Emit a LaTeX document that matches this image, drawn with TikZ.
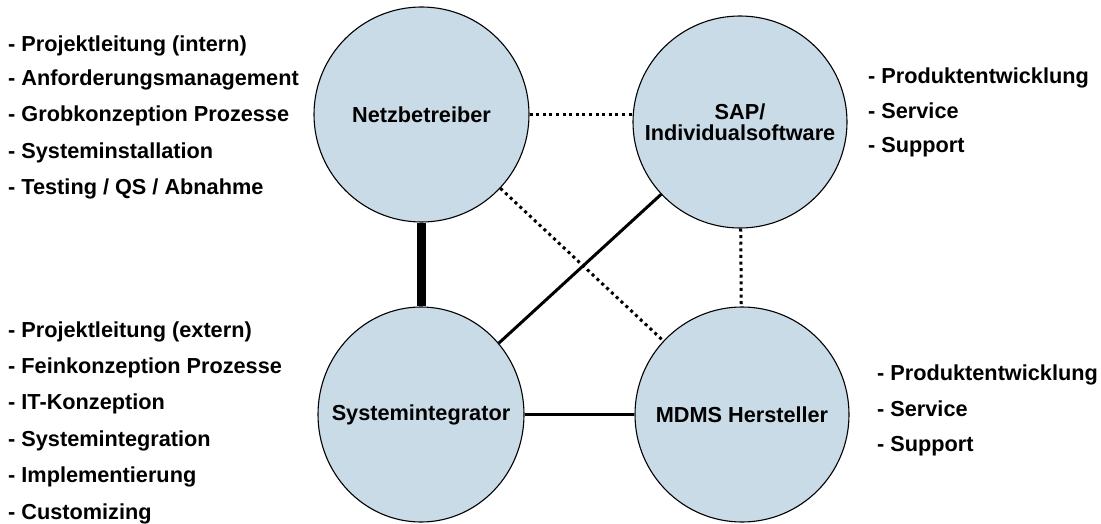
\documentclass[tikz,border=0pt]{standalone}
\usepackage{fontspec}
\setmainfont{Liberation Sans}
\usetikzlibrary{shapes.geometric}
\definecolor{cfill}{RGB}{201,219,231}
\begin{document}
\begin{tikzpicture}[x=1pt,y=-1pt,
  party/.style={ellipse, draw=black, line width=1.1pt, fill=cfill, inner sep=0pt},
  partytext/.style={inner sep=0pt, font=\bfseries\fontsize{21.7}{21}\selectfont, align=center},
  item/.style={anchor=base west, inner sep=0pt, font=\bfseries\fontsize{21.7}{26}\selectfont},
  dotline/.style={line width=3pt, dash pattern=on 3pt off 3.6pt},
  solidline/.style={line width=3pt},
  thickline/.style={line width=9.5pt}]
\useasboundingbox (0,0) rectangle (1101,524);

\node[party, minimum width=215pt, minimum height=215pt] (netz) at (421.5,114.5) {};
\node[party, minimum width=214pt, minimum height=212pt] (sap) at (740,122) {};
\node[party, minimum width=206pt, minimum height=215pt] (si) at (421,414.5) {};
\node[party, minimum width=214pt, minimum height=215pt] (mdms) at (742,414.5) {};

\node[partytext] (netzT) at (netz.center) {Netzbetreiber};
\node[partytext] (sapT) at (sap.center) {SAP/\\Individualsoftware};
\node[partytext] (siT) at (si.center) {Systemintegrator};
\node[partytext] (mdmsT) at (mdms.center) {MDMS Hersteller};

\draw[thickline] (netz.south) -- (netz.south |- si.north);
\draw[solidline] (si) -- (sap);
\draw[dotline] (netz) -- (mdms);
\draw[dotline] (sap) -- (mdms);
\draw[dotline] (netz.east) -- (netz.east -| sap.west);
\draw[solidline] (si) -- (mdms);

% left upper list
\node[item] (a1) at (8,51.5) {- Projektleitung (intern)};
\node[item] (a2) at (8,86) {- Anforderungsmanagement};
\node[item] (a3) at (8,122) {- Grobkonzeption Prozesse};
\node[item] (a4) at (8,158.5) {- Systeminstallation};
\node[item] (a5) at (8,195) {- Testing / QS / Abnahme};

% left lower list
\node[item] (b1) at (8,337) {- Projektleitung (extern)};
\node[item] (b2) at (8,373.4) {- Feinkonzeption Prozesse};
\node[item] (b3) at (8,409.8) {- IT-Konzeption};
\node[item] (b4) at (8,446.2) {- Systemintegration};
\node[item] (b5) at (8,482.6) {- Implementierung};
\node[item] (b6) at (8,519) {- Customizing};

% right upper list
\node[item] (c1) at (868,83.5) {- Produktentwicklung};
\node[item] (c2) at (868,118.5) {- Service};
\node[item] (c3) at (868,153) {- Support};

% right lower list
\node[item] (d1) at (877,380.5) {- Produktentwicklung};
\node[item] (d2) at (877,416) {- Service};
\node[item] (d3) at (877,451) {- Support};
\end{tikzpicture}
\end{document}
